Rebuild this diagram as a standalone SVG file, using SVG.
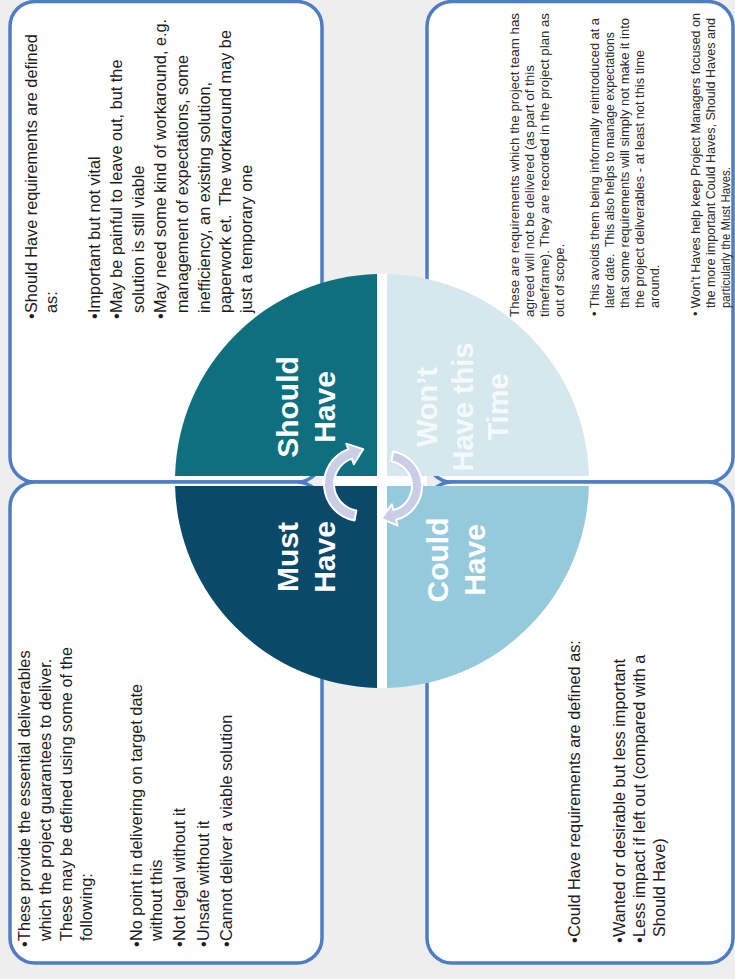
<svg xmlns="http://www.w3.org/2000/svg" width="735" height="979" viewBox="0 0 735 979">
  <style>
    .box { fill: #ffffff; stroke: #4f7dc3; stroke-width: 3.5; }
    .body { font-family: "Liberation Sans", Arial, sans-serif; font-size: 16.3px; fill: #1c1c1c; }
    .small { font-family: "Liberation Sans", Arial, sans-serif; font-size: 12.8px; fill: #2a2a2a; }
    .label { font-family: "Liberation Sans", Arial, sans-serif; font-size: 30px; font-weight: bold; fill: #ffffff; text-anchor: middle; }
    .cycle { fill: #c9cde6; stroke: #ffffff; stroke-width: 2; stroke-linejoin: round; }
  </style>

  <!-- page background -->
  <rect x="0" y="0" width="735" height="979" fill="#eeeeee"/>

  <!-- description panels (text runs bottom-to-top) -->
  <g id="should-panel">
    <rect class="box" x="10" y="1.5" width="312" height="480.5" rx="25"/>
    <g class="body" transform="translate(0,313) rotate(-90)">
      <text x="-6" y="37">•</text>
      <text x="0" y="37">Should Have requirements are defined</text>
      <text x="0" y="57">as:</text>
      <text x="-6" y="100">•</text>
      <text x="0" y="100">Important but not vital</text>
      <text x="-6" y="122">•</text>
      <text x="0" y="122">May be painful to leave out, but the</text>
      <text x="0" y="144">solution is still viable</text>
      <text x="-6" y="166">•</text>
      <text x="0" y="166">May need some kind of workaround, e.g.</text>
      <text x="0" y="188">management of expectations, some</text>
      <text x="0" y="210">inefficiency, an existing solution,</text>
      <text x="0" y="231" xml:space="preserve">paperwork et.  The workaround may be</text>
      <text x="0" y="252">just a temporary one</text>
    </g>
  </g>

  <g id="wont-panel">
    <rect class="box" x="427" y="1.5" width="306" height="480.5" rx="25"/>
    <g class="small" transform="translate(0,317) rotate(-90)" lengthAdjust="spacingAndGlyphs">
      <text x="0" y="519" textLength="304" lengthAdjust="spacingAndGlyphs">These are requirements which the project team has</text>
      <text x="0" y="534" textLength="252" lengthAdjust="spacingAndGlyphs">agreed will not be delivered (as part of this</text>
      <text x="0" y="549" textLength="304" lengthAdjust="spacingAndGlyphs">timeframe). They are recorded in the project plan as</text>
      <text x="0" y="564">out of scope.</text>
      <text x="1" y="599" textLength="298" lengthAdjust="spacingAndGlyphs">• This avoids them being informally reintroduced at a</text>
      <text x="9" y="614" textLength="276" lengthAdjust="spacingAndGlyphs" xml:space="preserve">later date.  This also helps to manage expectations</text>
      <text x="9" y="629" textLength="290" lengthAdjust="spacingAndGlyphs">that some requirements will simply not make it into</text>
      <text x="9" y="644" textLength="258" lengthAdjust="spacingAndGlyphs">the project deliverables - at least not this time</text>
      <text x="9" y="659">around.</text>
      <text x="1" y="700" textLength="303" lengthAdjust="spacingAndGlyphs">• Won’t Haves help keep Project Managers focused on</text>
      <text x="9" y="715" textLength="290" lengthAdjust="spacingAndGlyphs">the more important Could Haves, Should Haves and</text>
      <text x="9" y="730" textLength="141" lengthAdjust="spacingAndGlyphs">particularly the Must Haves.</text>
    </g>
  </g>

  <g id="must-panel">
    <rect class="box" x="10" y="482" width="312" height="481" rx="25"/>
    <g class="body" transform="translate(0,941) rotate(-90)">
      <text x="-6" y="30">•</text>
      <text x="0" y="30">These provide the essential deliverables</text>
      <text x="0" y="51">which the project guarantees to deliver.</text>
      <text x="0" y="72">These may be defined using some of the</text>
      <text x="0" y="92">following:</text>
      <text x="-6" y="142">•</text>
      <text x="0" y="142">No point in delivering on target date</text>
      <text x="0" y="162">without this</text>
      <text x="-6" y="185">•</text>
      <text x="0" y="185">Not legal without it</text>
      <text x="-6" y="209">•</text>
      <text x="0" y="209">Unsafe without it</text>
      <text x="-6" y="232">•</text>
      <text x="0" y="232">Cannot deliver a viable solution</text>
    </g>
  </g>

  <g id="could-panel">
    <rect class="box" x="427" y="482" width="306" height="481" rx="25"/>
    <g class="body" transform="translate(0,937) rotate(-90)">
      <text x="-6" y="580">•</text>
      <text x="0" y="580">Could Have requirements are defined as:</text>
      <text x="-6" y="625">•</text>
      <text x="0" y="625">Wanted or desirable but less important</text>
      <text x="-6" y="645">•</text>
      <text x="0" y="645">Less impact if left out (compared with a</text>
      <text x="0" y="665">Should Have)</text>
    </g>
  </g>

  <!-- white gaps between the quadrants, over the space between panels -->
  <rect x="377" y="274" width="10" height="414" fill="#ffffff"/>
  <rect x="322" y="476" width="105" height="10" fill="#ffffff"/>

  <!-- MoSCoW quadrants -->
  <g id="should-have">
    <path d="M377,476 V274.06 A207,207 0 0 0 175.06,476 Z" fill="#0f6f7f"/>
    <g class="label" transform="translate(0,407) rotate(-90)">
      <text x="0" y="298">Should</text>
      <text x="0" y="335">Have</text>
    </g>
  </g>

  <g id="wont-have">
    <path d="M387,476 V274.06 A207,207 0 0 1 588.94,476 Z" fill="#d4e8ee"/>
    <g class="label" transform="translate(0,407) rotate(-90)" fill-opacity="0.8" style="font-size:29px">
      <text x="0" y="437">Won’t</text>
      <text x="0" y="473">Have this</text>
      <text x="0" y="508">Time</text>
    </g>
  </g>

  <g id="must-have">
    <path d="M377,486 V687.94 A207,207 0 0 1 175.06,486 Z" fill="#0b4968"/>
    <g class="label" transform="translate(0,557) rotate(-90)">
      <text x="0" y="298">Must</text>
      <text x="0" y="335">Have</text>
    </g>
  </g>

  <g id="could-have">
    <path d="M387,486 V687.94 A207,207 0 0 0 588.94,486 Z" fill="#94cadb"/>
    <g class="label" transform="translate(0,560) rotate(-90)">
      <text x="0" y="448">Could</text>
      <text x="0" y="485">Have</text>
    </g>
  </g>

  <!-- cycle arrows in the centre -->
  <g id="connectors">
    <path class="cycle" d="M354.58,520.44 A37,37 0 0 1 348.35,449.23 L346.29,443.59 L363.2,449.1 L353.82,464.27 L351.77,458.63 A27,27 0 0 0 356.31,510.59 Z"/>
    <path class="cycle" d="M393.08,451.53 A35,35 0 0 1 396.06,519.81 L397.61,525.6 L381.24,518.6 L391.92,504.35 L393.47,510.15 A25,25 0 0 0 391.34,461.38 Z"/>
  </g>
</svg>
